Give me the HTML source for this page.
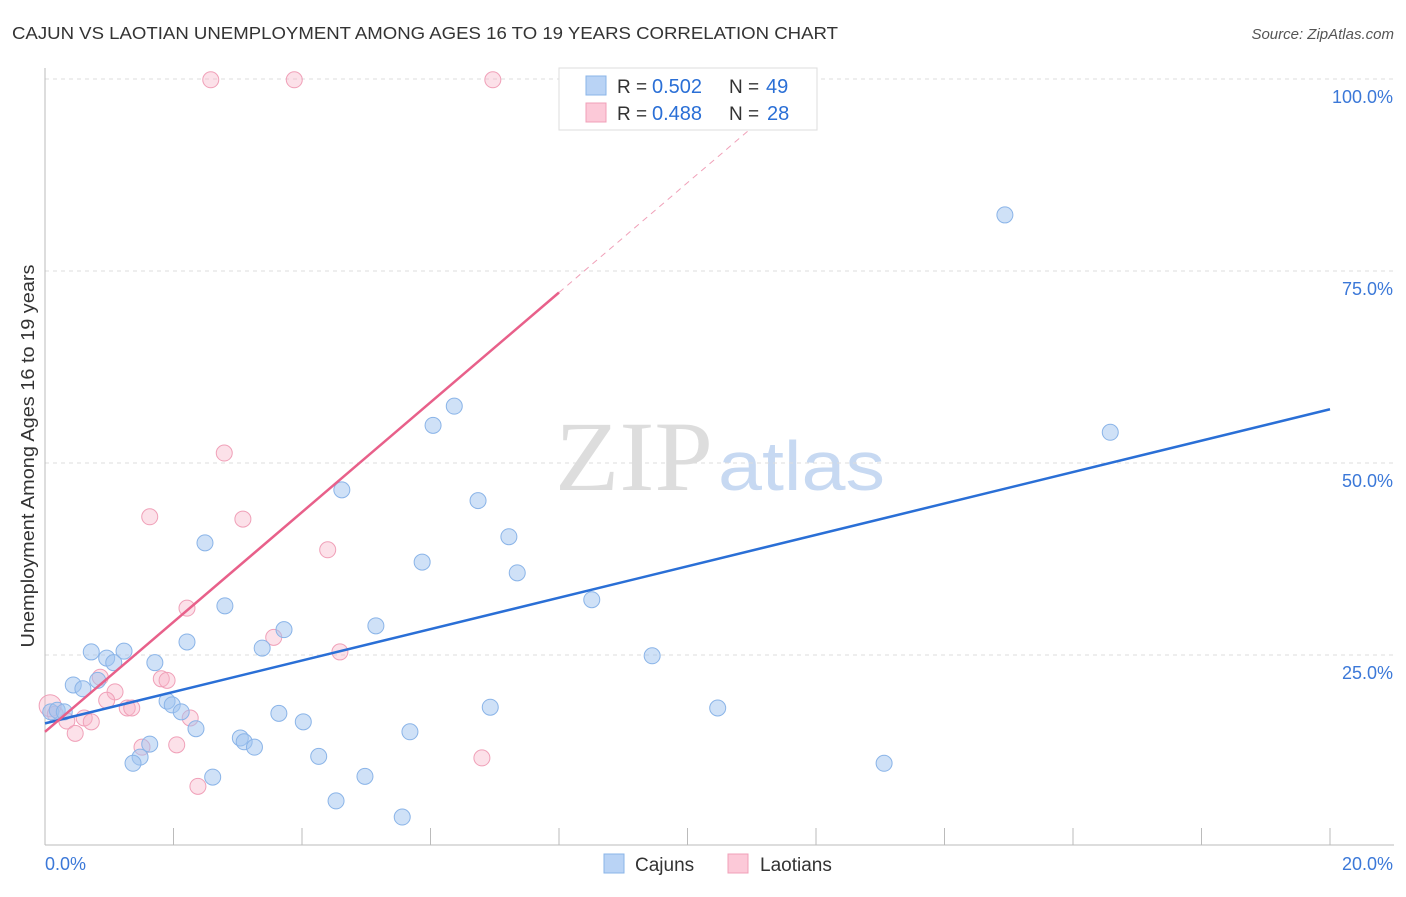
<!DOCTYPE html>
<html><head><meta charset="utf-8"><style>
body{margin:0;background:#fff;font-family:"Liberation Sans",sans-serif;}
svg text{font-family:"Liberation Sans",sans-serif;}
</style></head><body>
<svg width="1406" height="892" xmlns="http://www.w3.org/2000/svg" id="chart">
<text x="12" y="39" font-size="17.5" fill="#333" textLength="826" lengthAdjust="spacingAndGlyphs">CAJUN VS LAOTIAN UNEMPLOYMENT AMONG AGES 16 TO 19 YEARS CORRELATION CHART</text>
<text x="1394" y="39" font-size="15" fill="#555" font-style="italic" text-anchor="end">Source: ZipAtlas.com</text>
<g>
<text x="555" y="490" font-size="100" fill="#ddd" style="font-family:'Liberation Serif',serif" textLength="158" lengthAdjust="spacingAndGlyphs">ZIP</text>
<text x="718" y="490" font-size="70" fill="#c7d9f2" textLength="167" lengthAdjust="spacingAndGlyphs">atlas</text>
</g>
<g id="grid"></g>
<g id="axes"></g>
<g id="pts"></g>
<g id="lines"></g>
<text x="34" y="456" font-size="18" fill="#333" text-anchor="middle" textLength="383" lengthAdjust="spacingAndGlyphs" transform="rotate(-90 34 456)">Unemployment Among Ages 16 to 19 years</text>
<g>
<rect x="559" y="68" width="258" height="62" fill="#fff" stroke="#ddd"/>
<rect x="586" y="76" width="20" height="19" fill="#b9d3f5" stroke="#8ab4e8"/>
<rect x="586" y="103" width="20" height="19" fill="#fcc9d8" stroke="#f0a0b8"/>
<text x="617" y="93" font-size="19" fill="#333">R =</text><text x="652" y="93" font-size="20" fill="#2a6fd6">0.502</text>
<text x="729" y="93" font-size="19" fill="#333">N =</text><text x="766" y="93" font-size="20" fill="#2a6fd6">49</text>
<text x="617" y="120" font-size="19" fill="#333">R =</text><text x="652" y="120" font-size="20" fill="#2a6fd6">0.488</text>
<text x="729" y="120" font-size="19" fill="#333">N =</text><text x="767" y="120" font-size="20" fill="#2a6fd6">28</text>
</g>
<g>
<rect x="604" y="854" width="20" height="19" fill="#b9d3f5" stroke="#8ab4e8"/>
<text x="635" y="871" font-size="19" fill="#333">Cajuns</text>
<rect x="728" y="854" width="20" height="19" fill="#fcc9d8" stroke="#f0a0b8"/>
<text x="760" y="871" font-size="19" fill="#333">Laotians</text>
</g>
</svg>
<script>
const cajunX=[14.94,16.58,6.37,6.04,4.62,6.74,7.22,2.49,5.87,7.35,8.51,2.80,5.15,3.72,2.21,3.38,0.72,1.23,9.45,0.96,1.07,1.71,0.44,0.59,0.82,1.90,1.98,2.12,0.09,0.19,0.30,3.64,6.93,10.47,4.02,2.35,5.68,3.04,1.63,3.10,3.26,1.48,1.37,4.26,13.06,2.61,4.98,4.53,5.56];
const cajunY=[82.3,54.0,57.4,54.9,46.5,45.1,40.4,39.6,37.1,35.7,32.2,31.4,28.8,28.3,26.7,25.9,25.4,25.5,24.9,24.6,24.0,24.0,21.1,20.6,21.7,19.0,18.5,17.6,17.6,17.8,17.6,17.4,18.2,18.1,16.3,15.4,15.0,14.2,13.4,13.7,13.0,11.7,10.9,11.8,10.9,9.1,9.2,6.0,3.9];
const laoX=[2.58,3.88,6.97,2.79,1.63,3.08,4.40,2.21,3.56,4.59,1.81,1.90,0.86,1.09,0.96,1.28,1.35,2.26,0.08,0.16,0.34,0.61,0.72,0.47,1.51,2.05,2.38,6.80];
const laoY=[99.9,99.9,99.9,51.3,43.0,42.7,38.7,31.1,27.3,25.4,21.9,21.7,22.1,20.2,19.1,18.1,18.1,16.8,18.4,17.3,16.4,16.8,16.3,14.8,13.0,13.3,7.9,11.6];
const cajunFit=[16.1,57.0];
const laoFit=[15.0,7.15];
const yTicks=[25,50,75,100];
const NS='http://www.w3.org/2000/svg';
const X=v=>45+v*64.25, Y=v=>847-v*7.68;
function mk(t,a,p){const e=document.createElementNS(NS,t);for(const k in a)e.setAttribute(k,a[k]);document.getElementById(p).appendChild(e);return e;}
yTicks.forEach(t=>{
 const g=mk('line',{x1:45,x2:1394,y1:Y(t),y2:Y(t),stroke:'#ddd','stroke-dasharray':'4,4'},'grid');
 
 
 const l=mk('text',{x:1393,y:Y(t)+24,'font-size':18,fill:'#3b78d8','text-anchor':'end'},'axes');
 l.textContent=t.toFixed(1)+'%';
 
 
});
mk('line',{x1:45,x2:45,y1:68,y2:845,stroke:'#bbb'},'axes');
mk('line',{x1:45,x2:1394,y1:845,y2:845,stroke:'#bbb'},'axes');
for(let i=0;i<=10;i++){mk('line',{x1:X(i*2),x2:X(i*2),y1:828,y2:845,stroke:'#bbb'},'axes');}
const x0=mk('text',{x:45,y:870,'font-size':18,fill:'#3b78d8'},'axes');x0.textContent='0.0%';


const x1=mk('text',{x:1393,y:870,'font-size':18,fill:'#3b78d8','text-anchor':'end'},'axes');x1.textContent='20.0%';


laoX.forEach((v,i)=>{const c=mk('circle',{cx:X(v),cy:Y(laoY[i]),r:i==18?11:8,fill:'rgba(248,180,200,0.4)',stroke:'#f0a0b8','stroke-width':1},'pts');
 
 });
cajunX.forEach((v,i)=>{const c=mk('circle',{cx:X(v),cy:Y(cajunY[i]),r:8,fill:'rgba(160,196,240,0.5)',stroke:'#8ab4e8','stroke-width':1},'pts');
 
 });
const bl=mk('line',{x1:X(0),y1:Y(cajunFit[0]),x2:X(20),y2:Y(cajunFit[1]),stroke:'#2a6fd6','stroke-width':2.5},'lines');


const pl=mk('line',{x1:X(0),y1:Y(laoFit[0]),x2:X(8),y2:Y(laoFit[0]+laoFit[1]*8),stroke:'#e8608a','stroke-width':2.5},'lines');


const xe=(100-laoFit[0])/laoFit[1];
const pd=mk('line',{x1:X(8),y1:Y(laoFit[0]+laoFit[1]*8),x2:X(xe),y2:Y(100),stroke:'#f0a0b8','stroke-width':1,'stroke-dasharray':'6,5'},'lines');


</script>
</body></html>
